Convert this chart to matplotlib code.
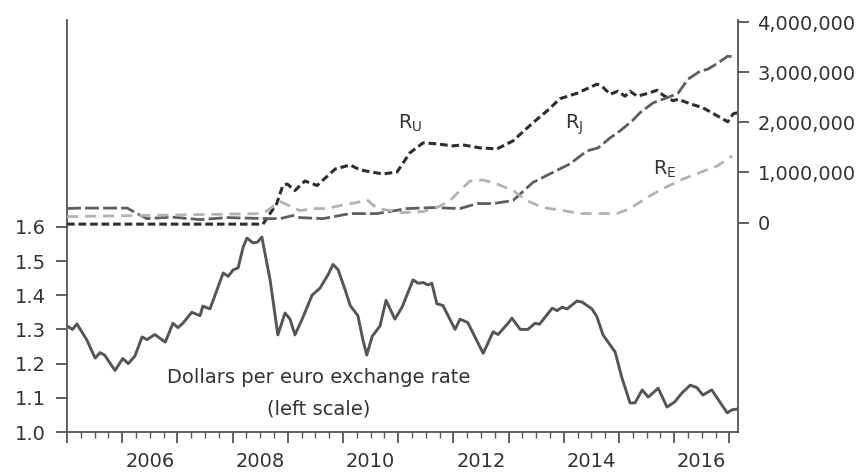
import numpy as np
import matplotlib
matplotlib.use("Agg")
import matplotlib.pyplot as plt
from matplotlib.ticker import FixedLocator, FuncFormatter

plt.rcParams['font.family'] = ['DejaVu Sans']
plt.rcParams['lines.scale_dashes'] = False

# dollars per euro (left scale)
fx_year = [2005.00, 2005.10, 2005.18, 2005.36, 2005.51, 2005.60, 2005.68, 2005.87, 2006.01, 2006.11,
           2006.23, 2006.36, 2006.45, 2006.59, 2006.78, 2006.92, 2007.01, 2007.10, 2007.26, 2007.41,
           2007.46, 2007.59, 2007.83, 2007.92, 2008.01, 2008.10, 2008.19, 2008.26, 2008.37, 2008.45,
           2008.53, 2008.68, 2008.82, 2008.95, 2009.04, 2009.13, 2009.26, 2009.44, 2009.58, 2009.73,
           2009.82, 2009.91, 2010.04, 2010.13, 2010.27, 2010.36, 2010.43, 2010.53, 2010.67, 2010.78,
           2010.94, 2011.07, 2011.27, 2011.36, 2011.45, 2011.54, 2011.61, 2011.70, 2011.81, 2012.03,
           2012.12, 2012.26, 2012.54, 2012.72, 2012.81, 2013.00, 2013.06, 2013.21, 2013.35, 2013.48,
           2013.56, 2013.79, 2013.88, 2013.97, 2014.06, 2014.24, 2014.33, 2014.51, 2014.60, 2014.71,
           2014.93, 2015.05, 2015.20, 2015.29, 2015.42, 2015.53, 2015.71, 2015.87, 2016.01, 2016.14,
           2016.29, 2016.41, 2016.52, 2016.68, 2016.96, 2017.05, 2017.14]
fx_rate = [1.310, 1.300, 1.316, 1.269, 1.216, 1.232, 1.225, 1.180, 1.215, 1.200,
           1.222, 1.278, 1.270, 1.285, 1.263, 1.318, 1.305, 1.318, 1.350, 1.340,
           1.368, 1.360, 1.465, 1.455, 1.474, 1.480, 1.540, 1.567, 1.553, 1.555,
           1.570, 1.444, 1.284, 1.348, 1.330, 1.284, 1.330, 1.400, 1.420, 1.460,
           1.490, 1.475, 1.415, 1.370, 1.340, 1.270, 1.225, 1.280, 1.310, 1.385,
           1.330, 1.365, 1.445, 1.435, 1.437, 1.430, 1.435, 1.375, 1.370, 1.300,
           1.330, 1.320, 1.230, 1.293, 1.285, 1.320, 1.333, 1.300, 1.300, 1.318,
           1.315, 1.362, 1.355, 1.365, 1.360, 1.383, 1.380, 1.360, 1.337, 1.284,
           1.234, 1.160, 1.085, 1.085, 1.123, 1.102, 1.128, 1.073, 1.088, 1.114,
           1.137, 1.130, 1.108, 1.123, 1.056, 1.065, 1.067]

# reserves, millions (right scale)
ru_year = [2005.00, 2008.55, 2008.80, 2008.91, 2008.99, 2009.13, 2009.31, 2009.53, 2009.86, 2010.13,
           2010.31, 2010.72, 2010.98, 2011.21, 2011.45, 2011.70, 2011.99, 2012.17, 2012.48, 2012.79,
           2013.08, 2013.44, 2013.70, 2013.93, 2014.24, 2014.60, 2014.69, 2014.84, 2014.98, 2015.11,
           2015.20, 2015.33, 2015.53, 2015.69, 2015.80, 2015.98, 2016.07, 2016.29, 2016.52, 2016.78,
           2016.97, 2017.07, 2017.14]
ru_val = [-0.03, -0.03, 0.38, 0.74, 0.77, 0.64, 0.83, 0.74, 1.07, 1.15,
          1.05, 0.97, 1.01, 1.39, 1.59, 1.57, 1.53, 1.55, 1.49, 1.47,
          1.63, 1.99, 2.23, 2.47, 2.58, 2.76, 2.72, 2.56, 2.62, 2.52,
          2.62, 2.52, 2.58, 2.64, 2.54, 2.43, 2.46, 2.37, 2.29, 2.13,
          2.01, 2.17, 2.19]

rj_year = [2005.00, 2005.24, 2006.09, 2006.27, 2006.45, 2006.90, 2007.41, 2007.90, 2008.62, 2008.86,
           2009.09, 2009.22, 2009.64, 2010.13, 2010.62, 2011.16, 2011.63, 2012.12, 2012.43, 2012.72,
           2013.08, 2013.44, 2013.80, 2014.11, 2014.42, 2014.62, 2014.84, 2015.02, 2015.24, 2015.38,
           2015.62, 2015.87, 2016.07, 2016.25, 2016.47, 2016.61, 2016.79, 2016.97, 2017.10]
rj_val = [0.28, 0.29, 0.29, 0.18, 0.08, 0.11, 0.06, 0.10, 0.08, 0.08,
          0.14, 0.10, 0.08, 0.18, 0.18, 0.28, 0.30, 0.28, 0.38, 0.38,
          0.44, 0.80, 1.00, 1.17, 1.43, 1.49, 1.69, 1.83, 2.03, 2.19,
          2.39, 2.49, 2.58, 2.86, 3.02, 3.06, 3.18, 3.32, 3.30]

re_year = [2005.00, 2007.41, 2008.55, 2008.86, 2009.22, 2009.46, 2009.71, 2009.95, 2010.25, 2010.43,
           2010.62, 2010.85, 2011.09, 2011.45, 2011.70, 2011.94, 2012.12, 2012.30, 2012.54, 2012.79,
           2013.08, 2013.33, 2013.62, 2013.99, 2014.29, 2014.60, 2014.96, 2015.20, 2015.51, 2015.80,
           2016.16, 2016.47, 2016.78, 2017.05]
re_val = [0.12, 0.16, 0.18, 0.42, 0.24, 0.28, 0.28, 0.34, 0.40, 0.46,
          0.28, 0.24, 0.20, 0.22, 0.30, 0.44, 0.64, 0.83, 0.85, 0.77,
          0.64, 0.44, 0.30, 0.24, 0.18, 0.18, 0.18, 0.28, 0.50, 0.68,
          0.87, 1.00, 1.13, 1.33]

label_years = [2006, 2008, 2010, 2012, 2014, 2016]
left_ticks = [1.0, 1.1, 1.2, 1.3, 1.4, 1.5, 1.6]
right_ticks = [0, 1, 2, 3, 4]

txt = '#333333'
axc = '#555555'
fs = 14

fig = plt.figure(figsize=(8.63, 4.75), dpi=100)
ax = fig.add_axes([67 / 863, 43 / 475, 671 / 863, 412 / 475])
ax.set_xlim(2005.0, 2017.156)
ax.set_ylim(1.0, 2.2047)

ax.plot(fx_year, fx_rate, color='#555555', lw=2.1, solid_joinstyle='round')

ax.spines['top'].set_visible(False)
ax.spines['right'].set_visible(False)
for s in ['left', 'bottom']:
    ax.spines[s].set_color(axc)
    ax.spines[s].set_linewidth(1.3)

ax.yaxis.set_major_locator(FixedLocator(left_ticks))
ax.yaxis.set_major_formatter(FuncFormatter(lambda v, p: f"{v:.1f}"))
ax.tick_params(axis='y', direction='out', length=8, width=1.3, color=axc,
               labelsize=fs, labelcolor=txt, pad=7)

ax.xaxis.set_major_locator(FixedLocator(np.arange(2005, 2018)))
ax.xaxis.set_minor_locator(FixedLocator(np.arange(2005, 2017.2, 0.25)))
ax.xaxis.set_major_formatter(FuncFormatter(lambda v, p: ''))
ax.tick_params(axis='x', which='major', direction='out', length=8, width=1.3, color=axc)
ax.tick_params(axis='x', which='minor', direction='out', length=4, width=1.0, color=axc)
for yr in label_years:
    ax.text(yr + 0.5, -0.048, str(yr), transform=ax.get_xaxis_transform(),
            ha='center', va='top', fontsize=fs, color=txt)

ax2 = ax.twinx()
ax2.set_ylim(-4.175, 4.04)
ax2.plot(ru_year, ru_val, color='#2e2e2e', lw=2.2, linestyle=(0, (5.5, 2.8)))
ax2.plot(rj_year, rj_val, color='#5e5e5e', lw=2.0, linestyle=(0, (10, 3)))
ax2.plot(re_year, re_val, color='#b3b3b3', lw=2.0, linestyle=(0, (8, 5)))

for s in ['top', 'left', 'bottom']:
    ax2.spines[s].set_visible(False)
ax2.spines['right'].set_color(axc)
ax2.spines['right'].set_linewidth(1.3)
ax2.yaxis.set_major_locator(FixedLocator(right_ticks))
ax2.yaxis.set_major_formatter(FuncFormatter(lambda v, p: f"{int(round(v * 1e6)):,}"))
ax2.tick_params(axis='y', direction='out', length=8, width=1.3, color=axc,
                labelsize=fs, labelcolor=txt, pad=6)

ax2.text(2011.0, 1.87, r'R$_\mathregular{U}$', fontsize=fs, color=txt, ha='left', va='baseline')
ax2.text(2014.02, 1.87, r'R$_\mathregular{J}$', fontsize=fs, color=txt, ha='left', va='baseline')
ax2.text(2015.62, 0.95, r'R$_\mathregular{E}$', fontsize=fs, color=txt, ha='left', va='baseline')

ax.text(2009.565, 1.143, 'Dollars per euro exchange rate', fontsize=fs,
        color=txt, ha='center', va='baseline')
ax.text(2009.565, 1.050, '(left scale)', fontsize=fs,
        color=txt, ha='center', va='baseline')

fig.savefig('out.png', dpi=100)
